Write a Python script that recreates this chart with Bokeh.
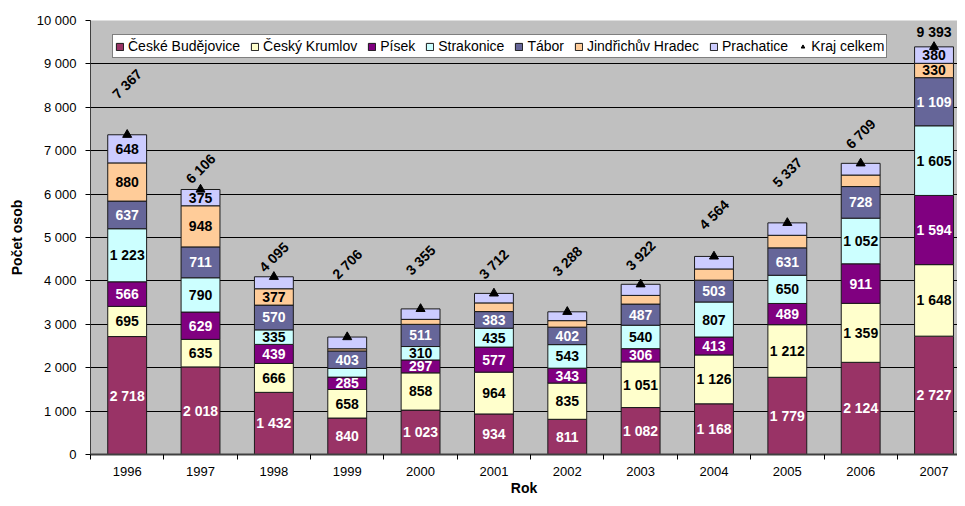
import math
from bokeh.plotting import figure
from bokeh.models import ColumnDataSource, Range1d, FixedTicker, CustomJSTickFormatter
from bokeh.core.properties import value
from bokeh.embed import file_html
from bokeh.resources import INLINE

# ---------------- data ----------------
years = ["1996", "1997", "1998", "1999", "2000", "2001", "2002", "2003", "2004", "2005", "2006", "2007"]
ceske_budejovice = [2718, 2018, 1432, 840, 1023, 934, 811, 1082, 1168, 1779, 2124, 2727]
cesky_krumlov = [695, 635, 666, 658, 858, 964, 835, 1051, 1126, 1212, 1359, 1648]
pisek = [566, 629, 439, 285, 297, 577, 343, 306, 413, 489, 911, 1594]
strakonice = [1223, 790, 335, 200, 310, 435, 543, 540, 807, 650, 1052, 1605]
tabor = [637, 711, 570, 403, 511, 383, 402, 487, 503, 631, 728, 1109]
jindrichuv_hradec = [880, 948, 377, 50, 115, 200, 150, 200, 258, 290, 265, 330]
prachatice = [648, 375, 276, 270, 241, 219, 204, 256, 289, 286, 270, 380]
kraj_celkem = [7367, 6106, 4095, 2706, 3355, 3712, 3288, 3922, 4564, 5337, 6709, 9393]

series_names = ["České Budějovice", "Český Krumlov", "Písek", "Strakonice", "Tábor",
                "Jindřichův Hradec", "Prachatice"]
series_values = [ceske_budejovice, cesky_krumlov, pisek, strakonice, tabor,
                 jindrichuv_hradec, prachatice]
total_name = "Kraj celkem"
y_ticks = [0, 1000, 2000, 3000, 4000, 5000, 6000, 7000, 8000, 9000, 10000]

# segments whose value label is not shown in the original
unlabelled = {
    "Strakonice": ["1999"],
    "Jindřichův Hradec": ["1999", "2000", "2001", "2002", "2003", "2004", "2005", "2006"],
    "Prachatice": ["1998", "1999", "2000", "2001", "2002", "2003", "2004", "2005", "2006"],
}

# ---------------- style ----------------
colors = ["#993366", "#FFFFCC", "#800080", "#CCFFFF", "#666699", "#FFCC99", "#CCCCFF"]
label_colors = ["white", "black", "white", "black", "white", "black", "black"]
# vertical placement of the (manually placed) total labels, in axis units
total_label_y = [8540, 6590, 4550, 4390, 4480, 4390, 4455, 4590, 5530, 6500, 7390, 9740]
total_label_angle = [math.pi / 4] * 11 + [0.0]

FONT = "Liberation Sans"
W, H = 957, 498
LEFT, TOP, BOTTOM = 90, 20, 43
cat_px = 73.35
frame_w = W - LEFT
frame_h_est = 432
x_end = frame_w / cat_px
LEGEND_H = 24

def fmt(v):
    return f"{v:,}".replace(",", " ")

n = len(years)
xs = [i + 0.5 for i in range(n)]

data = {"x": xs, "year": years}
for name, vals in zip(series_names, series_values):
    data[name] = vals
src = ColumnDataSource(data)

p = figure(width=W, height=H, output_backend="svg", toolbar_location=None,
           x_range=Range1d(0, x_end), y_range=Range1d(0, 10000),
           min_border_left=LEFT, min_border_right=0, min_border_top=TOP,
           min_border_bottom=BOTTOM)
p.background_fill_color = "#C0C0C0"
p.border_fill_color = "white"
p.outline_line_color = None

renderers = p.vbar_stack(series_names, x="x", width=0.53, source=src,
                         fill_color=colors, line_color="#1a1a1a", line_width=1,
                         legend_label=series_names)

# value labels inside segments
lx, ly, lt, lc = [], [], [], []
for si, (name, vals) in enumerate(zip(series_names, series_values)):
    for i in range(n):
        if years[i] in unlabelled.get(name, []):
            continue
        base = sum(series_values[k][i] for k in range(si))
        lx.append(xs[i])
        ly.append(base + vals[i] / 2)
        lt.append(fmt(vals[i]))
        lc.append(label_colors[si])
lab_src = ColumnDataSource(dict(x=lx, y=ly, t=lt, c=lc))
p.text(x="x", y="y", text="t", text_color="c", source=lab_src,
       text_align="center", text_baseline="middle",
       text_font=value(FONT), text_font_size="14px", text_font_style="bold")

# totals
tot_src = ColumnDataSource(dict(x=xs, y=kraj_celkem, ly=total_label_y,
                                t=[fmt(v) for v in kraj_celkem], a=total_label_angle))
p.scatter(x="x", y="y", source=tot_src, marker="triangle", size=9,
          fill_color="black", line_color="black", legend_label=total_name)
p.text(x="x", y="ly", text="t", angle="a", source=tot_src,
       text_align="center", text_baseline="middle", text_color="black",
       text_font=value(FONT), text_font_size="14px", text_font_style="bold")

# axes
xa = p.xaxis[0]
xa.ticker = FixedTicker(ticks=xs, minor_ticks=list(range(n + 1)))
xa.major_label_overrides = {x: y for x, y in zip(xs, years)}
xa.major_tick_out = 0
xa.major_tick_in = 0
xa.minor_tick_out = 5
xa.minor_tick_in = 0
xa.minor_tick_line_color = "black"
xa.major_label_standoff = 7
xa.axis_line_color = "#404040"
xa.axis_line_width = 2
xa.axis_label = "Rok"
xa.axis_label_standoff = 1

ya = p.yaxis[0]
ya.ticker = FixedTicker(ticks=y_ticks)
ya.formatter = CustomJSTickFormatter(code="return tick.toString().replace(/\\B(?=(\\d{3})+(?!\\d))/g, ' ');")
ya.major_tick_out = 5
ya.major_tick_in = 0
ya.minor_tick_out = 0
ya.minor_tick_in = 0
ya.major_label_standoff = 9
ya.axis_line_color = "#404040"
ya.axis_line_width = 1
ya.axis_label = "Počet osob"
ya.axis_label_standoff = 9

for ax in (xa, ya):
    ax.major_label_text_font = FONT
    ax.major_label_text_font_size = "13px"
    ax.major_label_text_color = "black"
    ax.axis_label_text_font = FONT
    ax.axis_label_text_font_size = "14px"
    ax.axis_label_text_font_style = "bold"
    ax.axis_label_text_color = "black"
    ax.major_tick_line_color = "black"

p.xgrid.grid_line_color = None
p.ygrid.grid_line_color = "black"
p.ygrid.grid_line_width = 1

lg = p.legend[0]
lg.orientation = "horizontal"
lg.location = (22, frame_h_est - 12 - LEGEND_H)
lg.border_line_color = "black"
lg.border_line_width = 1
lg.background_fill_color = "white"
lg.background_fill_alpha = 1
lg.label_text_font = FONT
lg.label_text_font_size = "14px"
lg.label_text_color = "black"
lg.glyph_width = 9
lg.glyph_height = 9
lg.label_standoff = 4
lg.spacing = 10
lg.padding = 2
lg.margin = 0
lg.label_height = 18

open("out.html", "w").write(file_html(p, INLINE))
